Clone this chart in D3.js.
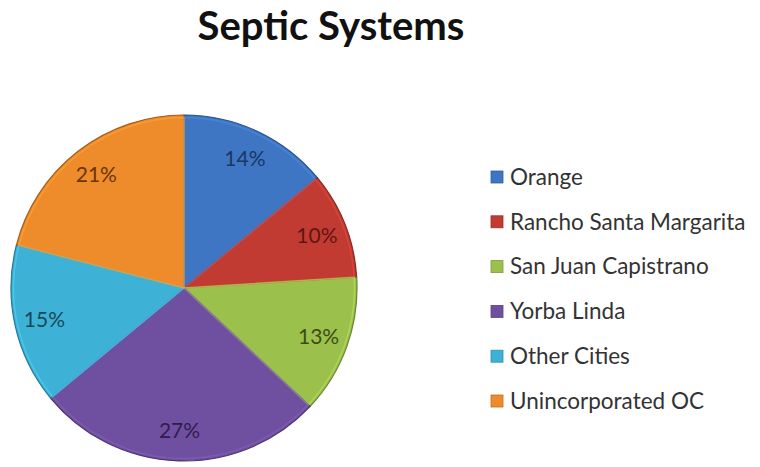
<!DOCTYPE html>
<html><head><meta charset="utf-8">
<script src="https://cdn.jsdelivr.net/npm/d3@7/dist/d3.min.js"></script>
<style>body{margin:0;background:#fff}svg{display:block}</style>
</head><body>
<svg id="c" width="760" height="467"></svg>
<script>
const categories = ["Orange","Rancho Santa Margarita","San Juan Capistrano","Yorba Linda","Other Cities","Unincorporated OC"];
const values = [14,10,13,27,15,21];
const colors = ["#3e76c4","#c23b32","#9bc04b","#6f50a0","#3db2d6","#ee8b2b"];
const labelColors = ["#1c3763","#5e1612","#3b4c17","#2f1c4c","#17495a","#6b3508"];
const title = "Septic Systems";

const svg = d3.select("#c");
const cx = 184, cy = 288, r = 173;

svg.append("text").attr("x",331).attr("y",40).attr("text-anchor","middle")
  .attr("font-family","Lato, 'Open Sans', sans-serif").attr("font-weight","bold")
  .attr("font-size",40).attr("fill","#111").text(title);

const pie = d3.pie().sort(null).value(d=>d)(values);
const arc = d3.arc().innerRadius(0).outerRadius(r);
const innerArc = d3.arc().innerRadius(0).outerRadius(r-2.5);
const labelArc = d3.arc().innerRadius(143).outerRadius(143);
const g = svg.append("g").attr("transform",`translate(${cx},${cy})`);
g.selectAll("path.s").data(pie).join("path").attr("class","s")
  .attr("d",arc).attr("fill",(d,i)=>colors[i])
  .attr("stroke",(d,i)=>d3.color(colors[i]).darker(1.1)).attr("stroke-width",1.2)
  .attr("stroke-linejoin","round");
g.selectAll("path.b").data(pie).join("path").attr("class","b")
  .attr("d",innerArc).attr("fill","none")
  .attr("stroke",(d,i)=>d3.color(colors[i]).brighter(0.5)).attr("stroke-opacity",0.6).attr("stroke-width",1.5)
  .attr("stroke-linejoin","round");
g.selectAll("text").data(pie).join("text")
  .attr("transform",d=>`translate(${labelArc.centroid(d)})`)
  .attr("text-anchor","middle").attr("dy","0.35em")
  .attr("font-family","Lato, sans-serif").attr("font-size",21)
  .attr("fill",(d,i)=>labelColors[i])
  .text(d=>d.data+"%");

const lg = svg.append("g");
const rowY = d3.scalePoint().domain(categories).range([177,401]);
const rows = lg.selectAll("g").data(categories).join("g")
  .attr("transform",d=>`translate(0,${rowY(d)})`);
rows.append("rect").attr("x",491).attr("y",-6).attr("width",12).attr("height",12)
  .attr("fill",(d,i)=>colors[i]).attr("stroke",(d,i)=>d3.color(colors[i]).darker(0.6)).attr("stroke-width",0.8);
rows.append("text").attr("x",510).attr("dy","0.35em")
  .attr("font-family","Lato, sans-serif").attr("font-size",22.5).attr("fill","#333")
  .text(d=>d);
</script>
</body></html>
